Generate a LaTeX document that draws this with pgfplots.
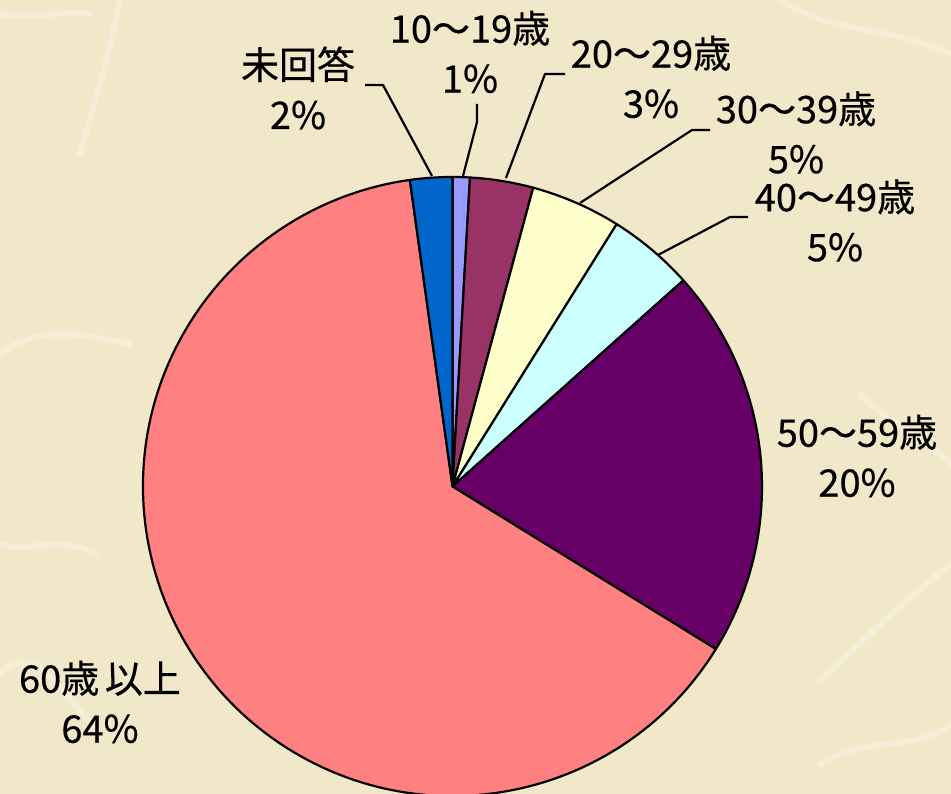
\documentclass[border=0pt]{standalone}
\usepackage{pgfplots}
\pgfplotsset{compat=1.18}
\usepackage{pgfplotstable}
\usepackage{fontspec}
\setmainfont{Noto Sans CJK JP}
\newfontfamily\lblfont[FakeBold=0.5]{Noto Sans CJK JP}
\definecolor{bg}{RGB}{241,231,201}
\definecolor{fiber}{RGB}{252,248,236}
\definecolor{slice0}{HTML}{9999FF}
\definecolor{slice1}{HTML}{993366}
\definecolor{slice2}{HTML}{FFFFCC}
\definecolor{slice3}{HTML}{CCFFFF}
\definecolor{slice4}{HTML}{660066}
\definecolor{slice5}{HTML}{FF8080}
\definecolor{slice6}{HTML}{0066CC}
% share (%) of each age group, clockwise from 12 o'clock
\pgfplotstableread{
group value
10-19 0.9
20-29 3.3
30-39 4.7
40-49 4.5
50-59 20.4
60+ 64.0
na 2.2
}\piedata
\newcommand\lbl{\lblfont\fontsize{38}{50}\selectfont}
\begin{document}
\begin{tikzpicture}
\def\cx{452.5}\def\cy{307.5}\def\R{309.5}
\gdef\cumangle{90}
\foreach \i in {0,...,6}{%
  \pgfplotstablegetelem{\i}{value}\of\piedata
  \pgfmathsetmacro\endang{\cumangle-3.6*\pgfplotsretval}%
  \pgfmathsetmacro\px{\cx+\R*cos(\cumangle)}%
  \pgfmathsetmacro\py{\cy+\R*sin(\cumangle)}%
  \expandafter\xdef\csname sA\i\endcsname{\cumangle}%
  \expandafter\xdef\csname sB\i\endcsname{\endang}%
  \expandafter\xdef\csname sX\i\endcsname{\px}%
  \expandafter\xdef\csname sY\i\endcsname{\py}%
  \xdef\cumangle{\endang}%
}
\begin{axis}[
  at={(0,0)}, anchor=south west,
  scale only axis, width=951pt, height=794pt,
  xmin=0, xmax=951, ymin=0, ymax=794,
  hide axis, clip=true,
]
\fill[bg] (axis cs:0,0) rectangle (axis cs:951,794);
% faint paper fibres of the background
\begin{scope}[draw=fiber, line width=6pt, opacity=0.4, line cap=round]
\draw (axis cs:0,440) .. controls (axis cs:40,470) and (axis cs:80,460) .. (axis cs:130,450);
\draw (axis cs:0,780) .. controls (axis cs:40,775) and (axis cs:80,785) .. (axis cs:90,780);
\draw (axis cs:120,794) .. controls (axis cs:105,720) and (axis cs:90,680) .. (axis cs:80,640);
\draw (axis cs:820,114) .. controls (axis cs:860,150) and (axis cs:900,190) .. (axis cs:951,230);
\draw (axis cs:0,250) .. controls (axis cs:30,240) and (axis cs:60,260) .. (axis cs:95,240);
\draw (axis cs:780,794) .. controls (axis cs:830,760) and (axis cs:880,770) .. (axis cs:951,740);
\draw (axis cs:860,400) .. controls (axis cs:890,370) and (axis cs:920,360) .. (axis cs:951,330);
\draw (axis cs:0,120) .. controls (axis cs:30,150) and (axis cs:50,120) .. (axis cs:100,60);
\draw (axis cs:820,30) .. controls (axis cs:870,60) and (axis cs:910,40) .. (axis cs:951,70);
\end{scope}
\pgfplotsinvokeforeach{0,...,6}{
  \filldraw[fill=slice#1, draw=black, line width=2.2pt, line join=round]
    (axis cs:452.5,307.5) -- (axis cs:\csname sX#1\endcsname,\csname sY#1\endcsname)
    arc[start angle=\csname sA#1\endcsname, end angle=\csname sB#1\endcsname, radius=309.5pt] -- cycle;
}
% leader lines
\begin{scope}[line width=2.2pt, line join=round]
\draw (axis cs:365,709) -- (axis cs:383,709) -- (axis cs:432,618);
\draw (axis cs:477,690) -- (axis cs:477,672) -- (axis cs:463,618);
\draw (axis cs:565,720) -- (axis cs:545,720) -- (axis cs:506,616);
\draw (axis cs:710,664) -- (axis cs:692,664) -- (axis cs:580,591);
\draw (axis cs:748,577) -- (axis cs:730,577) -- (axis cs:658,539);
\end{scope}
% labels
\node[align=center, font=\lbl] at (axis cs:298,706) {未回答\\2\%};
\node[align=center, font=\lbl] at (axis cs:470,742) {10～19歳\\1\%};
\node[align=center, font=\lbl] at (axis cs:651,717) {20～29歳\\3\%};
\node[align=center, font=\lbl] at (axis cs:796,661.5) {30～39歳\\5\%};
\node[align=center, font=\lbl] at (axis cs:835,573.5) {40～49歳\\5\%};
\node[align=center, font=\lbl] at (axis cs:857,338) {50～59歳\\20\%};
\node[align=center, font=\lbl] at (axis cs:100,92) {60歳\hspace{0.15em}以上\\64\%};
\end{axis}
\end{tikzpicture}
\end{document}
